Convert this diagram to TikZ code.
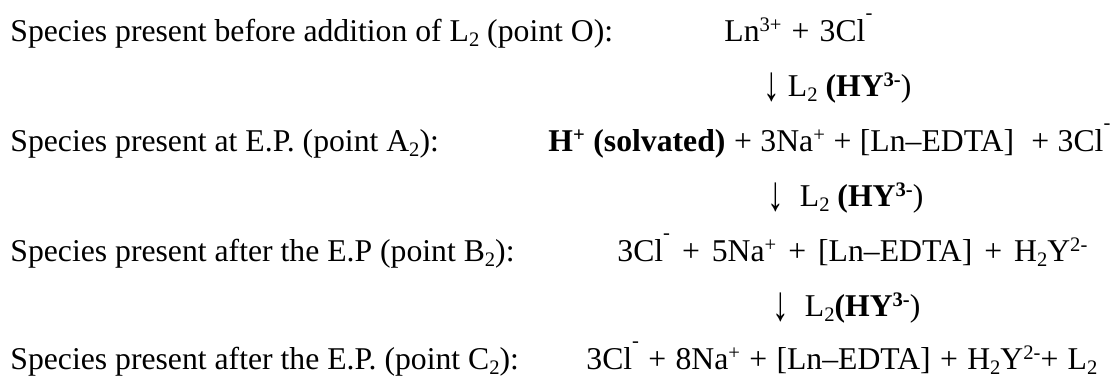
\documentclass[tikz,border=0pt]{standalone}
\usepackage{fontspec}
\usepackage{graphicx}
\setmainfont{Liberation Serif}
\newcommand\sups[1]{\raisebox{0.33em}{\fontsize{10.3bp}{11bp}\selectfont #1}}
\newcommand\subs[1]{\raisebox{-0.14em}{\fontsize{10.3bp}{11bp}\selectfont #1}}
\newcommand\clm{\raisebox{0.72em}{\fontsize{10.3bp}{11bp}\selectfont -}}
\newcommand\dnarrow{\raisebox{-0.12em}{\scalebox{1.05}[1.55]{↓}}}
\begin{document}
\begin{tikzpicture}[x=0.5bp,y=-0.5bp,
  txt/.style={anchor=base west, inner sep=0pt, font=\fontsize{15.85bp}{19bp}\selectfont}]
\useasboundingbox (0,0) rectangle (1118,377);
\node[txt] (l1) at (10,42) {Species present before addition of L\subs{2} (point O):};
\node[txt] (r1) at (724,42) {\makebox[74bp][s]{Ln\sups{3+} + 3Cl\clm}};
\node[txt] (a1) at (763,97) {\dnarrow{} L\subs{2} \textbf{(HY\sups{3-}})};
\node[txt] (l2) at (10,152) {Species present at E.P. (point A\subs{2}):};
\node[txt] (r2) at (548,152) {\makebox[281bp][s]{\textbf{H\sups{+} (solvated)} + 3Na\sups{+} + [Ln–EDTA]\ \ + 3Cl\clm}};
\node[txt] (a2) at (767,207) {\dnarrow\ \ L\subs{2} \textbf{(HY\sups{3-}})};
\node[txt] (l3) at (10,262) {Species present after the E.P (point B\subs{2}):};
\node[txt] (r3) at (617,262) {\makebox[235bp][s]{3Cl\clm{} + 5Na\sups{+} + [Ln–EDTA] + H\subs{2}Y\sups{2-}}};
\node[txt] (a3) at (772,317) {\dnarrow\ \ L\subs{2}\textbf{(HY\sups{3-}})};
\node[txt] (l4) at (10,370) {Species present after the E.P. (point C\subs{2}):};
\node[txt] (r4) at (586,370) {\makebox[255.5bp][s]{3Cl\clm{} + 8Na\sups{+} + [Ln–EDTA] + H\subs{2}Y\sups{2-}+ L\subs{2}}};
\end{tikzpicture}
\end{document}
